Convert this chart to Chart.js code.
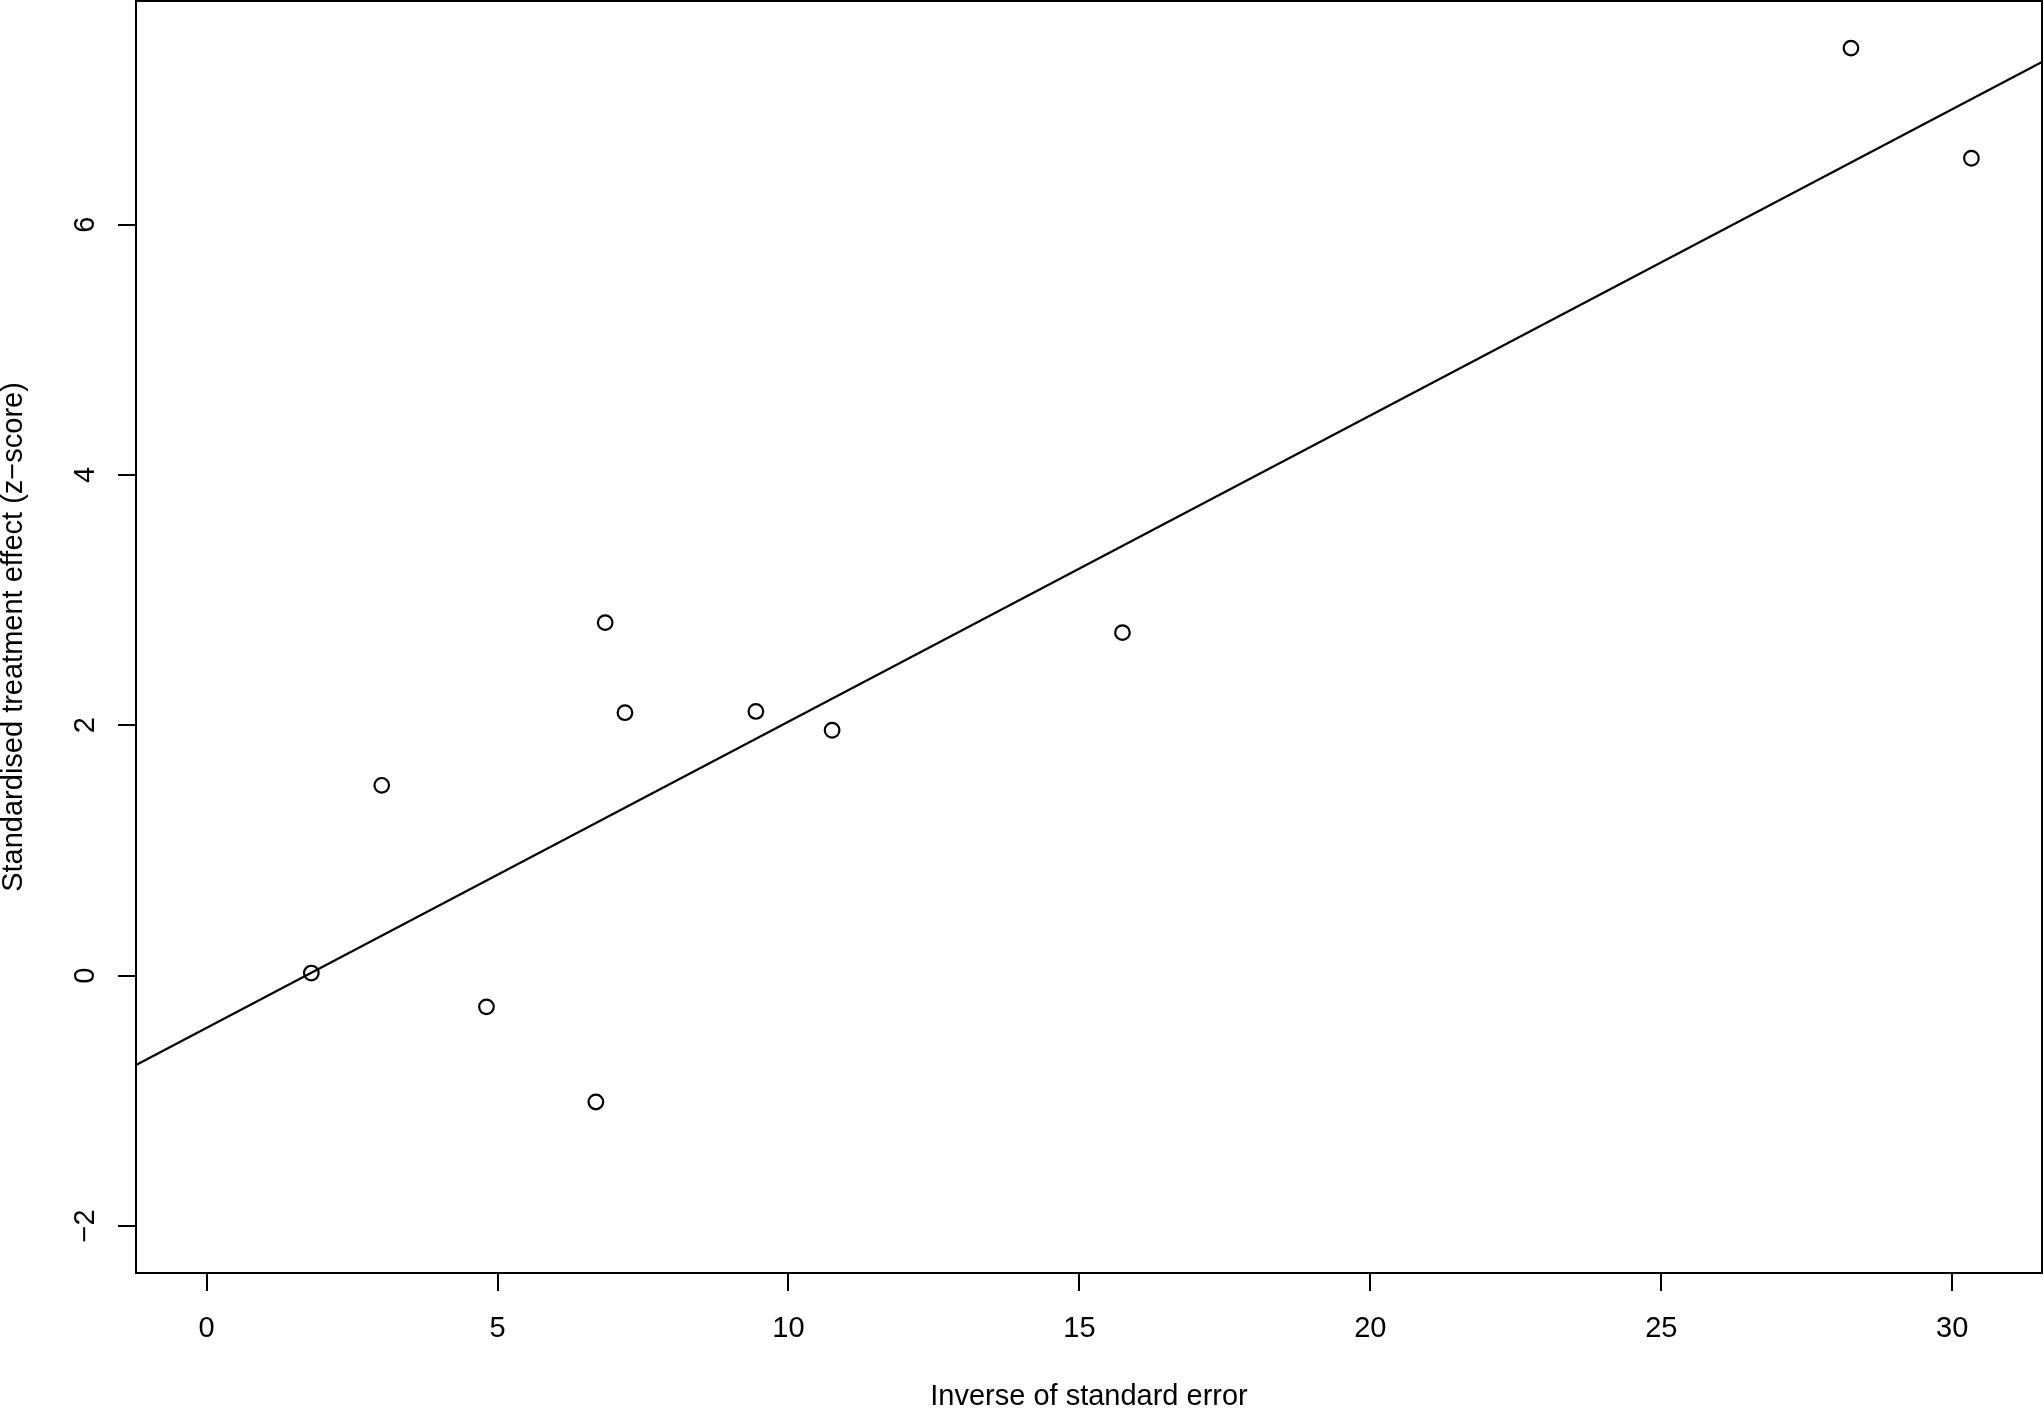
<!DOCTYPE html>
<html>
<head>
<meta charset="utf-8">
<script src="https://cdn.jsdelivr.net/npm/chart.js@4.4.0/dist/chart.umd.min.js"></script>
<style>
  html, body { margin: 0; padding: 0; background: #fff; }
  #wrap { width: 2044px; height: 1409px; }
</style>
</head>
<body>
<div id="wrap"><canvas id="chart"></canvas></div>
<script>
// precision (1/SE) and z-scores
const precision = [1.80, 3.01, 4.81, 6.69, 6.85, 7.19, 9.44, 10.75, 15.74, 28.26, 30.33];
const zScores = [0.02, 1.52, -0.25, -1.01, 2.82, 2.10, 2.11, 1.96, 2.74, 7.41, 6.53];
const xTicks = [0, 5, 10, 15, 20, 25, 30];
const yTicks = [-2, 0, 2, 4, 6];

const FONT = "'Liberation Sans', Arial, Helvetica, sans-serif";

// R style limits: xlim = c(0, max), ylim = c(-2, max), extended by 4%
const xLo = 0, xHi = Math.max(...precision);
const yLo = -2, yHi = Math.max(...zScores);
const xMin = xLo - 0.04 * (xHi - xLo), xMax = xHi + 0.04 * (xHi - xLo);
const yMin = yLo - 0.04 * (yHi - yLo), yMax = yHi + 0.04 * (yHi - yLo);

// least squares fit of z on precision
const n = precision.length;
const mx = precision.reduce((a, b) => a + b, 0) / n;
const my = zScores.reduce((a, b) => a + b, 0) / n;
let sxy = 0, sxx = 0;
for (let i = 0; i < n; i++) {
    sxy += (precision[i] - mx) * (zScores[i] - my);
    sxx += (precision[i] - mx) * (precision[i] - mx);
}
const slope = sxy / sxx;
const intercept = my - slope * mx;

let points = precision.map((x, i) => ({x: x, y: zScores[i]}));
let fitLine = [xMin, xMax].map(x => ({x: x, y: intercept + slope * x}));

const boxPlugin = {
    id: 'box',
    afterDraw(chart) {
        const ctx = chart.ctx;
        const a = chart.chartArea;
        ctx.save();
        ctx.strokeStyle = '#000';
        ctx.lineWidth = 2;
        ctx.strokeRect(a.left, a.top, a.right - a.left, a.bottom - a.top);
        // rotated y tick labels like R (las = 0)
        const ys = chart.scales.y;
        ctx.fillStyle = '#000';
        ctx.font = '29px ' + FONT;
        ctx.textAlign = 'center';
        ctx.textBaseline = 'middle';
        for (const t of ys.ticks) {
            const py = ys.getPixelForValue(t.value);
            ctx.save();
            ctx.translate(86, py);
            ctx.rotate(-Math.PI / 2);
            ctx.fillText(String(t.value).replace('-', '\u2212'), 0, 0);
            ctx.restore();
        }
        ctx.restore();
    }
};

function noPad(s) {
    s.paddingTop = 0;
    s.paddingBottom = 0;
    s.paddingLeft = 0;
    s.paddingRight = 0;
}

new Chart(document.getElementById('chart').getContext('2d'), {
    type: 'scatter',
    data: {
        datasets: [{
            data: points,
            pointRadius: 7.3,
            pointBorderWidth: 2.2,
            pointBorderColor: '#000',
            pointBackgroundColor: 'rgba(0,0,0,0)',
            showLine: false
        }, {
            data: fitLine,
            showLine: true,
            borderColor: '#000',
            borderWidth: 2.2,
            pointRadius: 0,
            fill: false
        }]
    },
    options: {
        responsive: true,
        maintainAspectRatio: false,
        animation: false,
        layout: { autoPadding: false, padding: { top: 1, right: 2, left: 0, bottom: 0 } },
        plugins: { legend: { display: false }, tooltip: { enabled: false } },
        scales: {
            x: {
                type: 'linear',
                min: xMin,
                max: xMax,
                afterBuildTicks: s => { s.ticks = xTicks.map(v => ({value: v})); },
                afterFit: s => { s.height = 136; noPad(s); },
                grid: { drawOnChartArea: false, drawTicks: true, tickLength: 18, color: '#000', lineWidth: 2 },
                border: { display: true, color: '#000', width: 2 },
                ticks: { color: '#000', padding: 21, maxRotation: 0, font: { family: FONT, size: 29 } },
                title: {
                    display: true,
                    text: 'Inverse of standard error',
                    color: '#000',
                    font: { family: FONT, size: 29, lineHeight: 1 },
                    padding: { top: 0, bottom: -2 }
                }
            },
            y: {
                type: 'linear',
                min: yMin,
                max: yMax,
                afterBuildTicks: s => { s.ticks = yTicks.map(v => ({value: v})); },
                afterFit: s => { s.width = 136; noPad(s); },
                grid: { drawOnChartArea: false, drawTicks: true, tickLength: 18, color: '#000', lineWidth: 2 },
                border: { display: true, color: '#000', width: 2 },
                ticks: { color: 'rgba(0,0,0,0)', font: { family: FONT, size: 29 } },
                title: {
                    display: true,
                    text: 'Standardised treatment effect (z\u2212score)',
                    color: '#000',
                    font: { family: FONT, size: 29, lineHeight: 1 },
                    padding: { top: -1, bottom: 0 }
                }
            }
        }
    },
    plugins: [boxPlugin]
});
</script>
</body>
</html>
